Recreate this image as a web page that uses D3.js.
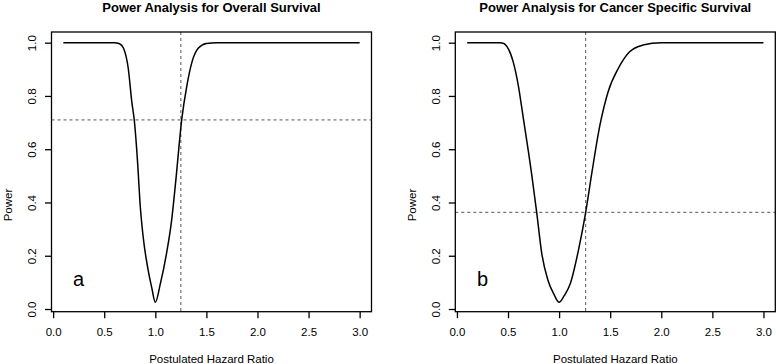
<!DOCTYPE html>
<html>
<head>
<meta charset="utf-8">
<script src="https://cdn.jsdelivr.net/npm/d3@7"></script>
<style>
  body { margin: 0; background: #fff; }
  svg text { font-family: "Liberation Sans", Arial, Helvetica, sans-serif; fill: #000; }
</style>
</head>
<body>
<svg class="chart" width="776" height="364"></svg>
<script>
// values
const hrOverall = [0.1, 0.6, 0.65, 0.69, 0.735, 0.77, 0.795, 0.83, 0.85, 0.88, 0.93, 0.965, 1.0,
    1.05, 1.11, 1.16, 1.2, 1.26, 1.31, 1.36, 1.42, 1.5, 1.6, 3.0];
const powerOverall = [1, 1, 0.996, 0.978, 0.904, 0.778, 0.706, 0.53, 0.4, 0.275, 0.146, 0.08, 0.025,
    0.096, 0.209, 0.334, 0.48, 0.716, 0.841, 0.929, 0.979, 0.997, 1, 1];

const hrCancer = [0.1, 0.42, 0.46, 0.49, 0.55, 0.6, 0.65, 0.7, 0.73, 0.78, 0.83, 0.89, 0.95, 1.0,
    1.05, 1.11, 1.19, 1.26, 1.32, 1.4, 1.48, 1.58, 1.69, 1.82, 2.0, 3.0];
const powerCancer = [1, 1, 0.997, 0.985, 0.929, 0.841, 0.716, 0.59, 0.51, 0.365, 0.209, 0.109, 0.055, 0.025,
    0.05, 0.096, 0.222, 0.363, 0.51, 0.691, 0.816, 0.904, 0.966, 0.991, 1, 1];

const xTicks = [0, 0.5, 1, 1.5, 2, 2.5, 3];
const yTicks = [0, 0.2, 0.4, 0.6, 0.8, 1];

const panels = [
    { title: 'Power Analysis for Overall Survival', tag: 'a', hr: hrOverall, power: powerOverall,
      refHr: 1.25, refPower: 0.71, left: 51.5 },
    { title: 'Power Analysis for Cancer Specific Survival', tag: 'b', hr: hrCancer, power: powerCancer,
      refHr: 1.26, refPower: 0.363, left: 455.3 }
];

const chart = d3.select('.chart');
const boxW = 320;
const boxTop = 32;
const boxBottom = 311.7;

const render = p => {
    const data = p.hr.map((h, i) => ({ hr: h, power: p.power[i] }));

    const x = d3.scaleLinear()
        .domain([-0.016, 3.116])
        .range([p.left, p.left + boxW]);

    const y = d3.scaleLinear()
        .domain([-0.0101, 1.0401])
        .range([boxBottom, boxTop]);

    const g = chart.append('g');

    // reference lines
    g.append('line')
        .attr('x1', p.left).attr('x2', p.left + boxW)
        .attr('y1', y(p.refPower)).attr('y2', y(p.refPower))
        .attr('stroke', '#555').attr('stroke-width', 1)
        .attr('stroke-dasharray', '3,3');

    g.append('line')
        .attr('x1', x(p.refHr)).attr('x2', x(p.refHr))
        .attr('y1', boxTop).attr('y2', boxBottom)
        .attr('stroke', '#555').attr('stroke-width', 1)
        .attr('stroke-dasharray', '3,3');

    const line = d3.line()
        .x(d => x(d.hr))
        .y(d => y(d.power))
        .curve(d3.curveMonotoneX);

    g.append('path')
        .attr('fill', 'none')
        .attr('stroke', '#000')
        .attr('stroke-width', 1.5)
        .attr('d', line(data));

    // box
    g.append('rect')
        .attr('x', p.left).attr('y', boxTop)
        .attr('width', boxW).attr('height', boxBottom - boxTop)
        .attr('fill', 'none').attr('stroke', '#000').attr('stroke-width', 1.3);

    const xAxisG = g.append('g')
        .attr('transform', `translate(0, ${boxBottom})`)
        .call(d3.axisBottom(x).tickValues(xTicks).tickFormat(d3.format('.1f')).tickSize(6.5));
    xAxisG.select('.domain').remove();
    xAxisG.selectAll('line').attr('stroke-width', 1.3);
    xAxisG.selectAll('text')
        .attr('y', 24.3).attr('dy', 0)
        .style('font-size', '11.5px');

    const yAxisG = g.append('g')
        .attr('transform', `translate(${p.left}, 0)`)
        .call(d3.axisLeft(y).tickValues(yTicks).tickFormat(d3.format('.1f')).tickSize(6.5));
    yAxisG.select('.domain').remove();
    yAxisG.selectAll('line').attr('stroke-width', 1.3);
    yAxisG.selectAll('text')
        .attr('x', 0).attr('dy', 0)
        .attr('text-anchor', 'middle')
        .attr('transform', 'translate(-15.8, 0) rotate(-90)')
        .style('font-size', '11.5px');

    g.append('text')
        .attr('x', p.left + boxW / 2)
        .attr('y', 11.5)
        .attr('text-anchor', 'middle')
        .style('font-size', '13px')
        .style('font-weight', 'bold')
        .text(p.title);

    g.append('text')
        .attr('x', p.left + boxW / 2)
        .attr('y', 362.5)
        .attr('text-anchor', 'middle')
        .style('font-size', '11.5px')
        .text('Postulated Hazard Ratio');

    g.append('text')
        .attr('transform', `translate(${p.left - 39.5}, 205) rotate(-90)`)
        .attr('text-anchor', 'middle')
        .style('font-size', '11.5px')
        .text('Power');

    g.append('text')
        .attr('x', x(0.25))
        .attr('y', 286)
        .attr('text-anchor', 'middle')
        .style('font-size', '20px')
        .text(p.tag);
};

panels.forEach(render);
</script>
</body>
</html>
